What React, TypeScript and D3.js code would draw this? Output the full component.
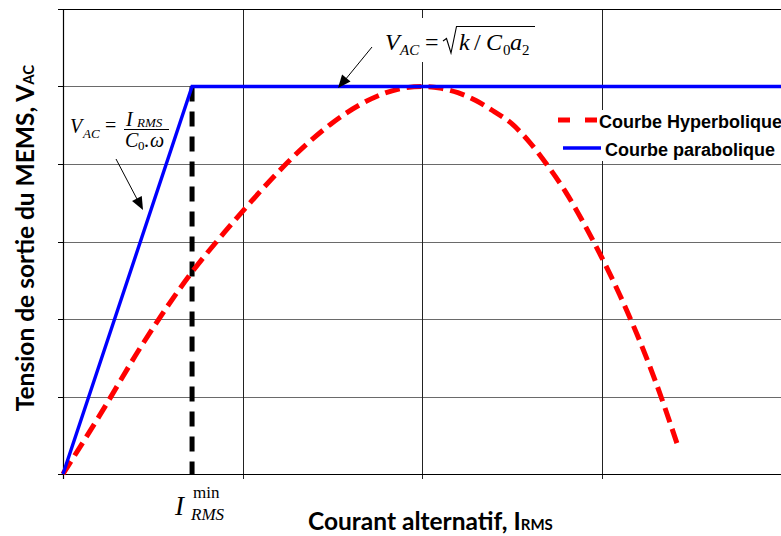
import React from "react";
import * as d3 from "d3";

const W = 781;
const H = 536;

// axis domains and grid values
const xGridValues = [0, 1, 2, 3, 4];
const yGridValues = [0, 1, 2, 3, 4, 5, 6];

// key values
const iRmsMin = 0.719;
const vMax = 5;

// parabolic curve (blue)
const blueX = [0, iRmsMin, 4];
const blueY = [0, vMax, vMax];

// hyperbolic curve (red dashed)
const redX = [0, 0.2, 0.45, 0.72, 0.9, 1.05, 1.2, 1.35, 1.5, 1.65, 1.8, 1.9, 2.0, 2.1, 2.2, 2.3, 2.4, 2.5, 2.6, 2.7, 2.8, 2.9, 3.0, 3.1, 3.2, 3.3, 3.43];
const redY = [0, 0.74, 1.7, 2.61, 3.12, 3.52, 3.9, 4.24, 4.53, 4.76, 4.92, 4.98, 5.0, 4.98, 4.92, 4.82, 4.68, 4.52, 4.28, 3.98, 3.64, 3.24, 2.8, 2.32, 1.79, 1.2, 0.33];

const legendLabels = ["Courbe Hyperbolique", "Courbe parabolique"];

function arrowHead(x1: number, y1: number, x2: number, y2: number, len = 13, half = 5.5) {
  const a = Math.atan2(y2 - y1, x2 - x1);
  const bx = x2 - len * Math.cos(a);
  const by = y2 - len * Math.sin(a);
  const px = -Math.sin(a) * half;
  const py = Math.cos(a) * half;
  return `M${x2},${y2} L${bx + px},${by + py} L${bx - px},${by - py} Z`;
}

export default function App() {
  const x = d3.scaleLinear().domain([0, 4]).range([63, 781]);
  const y = d3.scaleLinear().domain([0, 6]).range([474, 9]);

  const line = d3
    .line<[number, number]>()
    .x((d) => x(d[0]))
    .y((d) => y(d[1]));

  const smooth = d3
    .line<[number, number]>()
    .x((d) => x(d[0]))
    .y((d) => y(d[1]))
    .curve(d3.curveMonotoneX);

  const bluePts: [number, number][] = blueX.map((v, i) => [v, blueY[i]]);
  const redPts: [number, number][] = redX.map((v, i) => [v, redY[i]]);

  const serif = "'Liberation Serif', 'Times New Roman', serif";
  const sans = "'Liberation Sans', Arial, sans-serif";
  const calib = "Lato, 'Open Sans', sans-serif";

  return (
    <svg
      width={W}
      height={H}
      style={{ position: "absolute", left: 0, top: 0, background: "#fff" }}
    >
      <rect x={0} y={0} width={W} height={H} fill="#fff" />
      {/* horizontal gridlines */}
      {yGridValues.slice(1, 6).map((v) => (
        <line key={"h" + v} x1={58} x2={W} y1={Math.round(y(v)) + 0.5} y2={Math.round(y(v)) + 0.5} stroke="#6a6a6a" strokeWidth={1} />
      ))}
      {/* vertical gridlines */}
      {xGridValues.slice(1, 4).map((v) => (
        <line key={"v" + v} x1={Math.round(x(v)) + 0.5} x2={Math.round(x(v)) + 0.5} y1={y(6)} y2={479} stroke="#222" strokeWidth={1} />
      ))}
      {/* top border */}
      <line x1={58} x2={W} y1={y(6) + 0.5} y2={y(6) + 0.5} stroke="#000" strokeWidth={1.2} />
      {/* left axis */}
      <line x1={x(0) + 0.5} x2={x(0) + 0.5} y1={y(6)} y2={479} stroke="#000" strokeWidth={1.2} />
      {/* bottom axis */}
      <line x1={58} x2={W} y1={y(0) + 0.5} y2={y(0) + 0.5} stroke="#000" strokeWidth={1.2} />
      {/* left ticks */}
      {yGridValues.map((v) => (
        <line key={"ty" + v} x1={58} x2={63} y1={Math.round(y(v)) + 0.5} y2={Math.round(y(v)) + 0.5} stroke="#000" strokeWidth={1} />
      ))}

      {/* white boxes behind formulas and legend */}
      <rect x={380} y={18} width={160} height={44} fill="#fff" />
      <rect x={66} y={108} width={105} height={48} fill="#fff" />
      <rect x={553} y={110} width={228} height={51} fill="#fff" />

      {/* black dashed vertical at I_RMS min */}
      <line
        x1={x(iRmsMin)}
        x2={x(iRmsMin)}
        y1={y(vMax)}
        y2={y(0)}
        stroke="#000"
        strokeWidth={5}
        strokeDasharray="15,10"
      />

      {/* red hyperbolic curve */}
      <path d={smooth(redPts) || ""} fill="none" stroke="#ff0000" strokeWidth={5} strokeDasharray="15,7" />

      {/* blue parabolic curve */}
      <path d={line(bluePts) || ""} fill="none" stroke="#0000ff" strokeWidth={3.4} />

      {/* top formula */}
      <text fontFamily={serif} fontSize={24} fill="#000">
        <tspan x={385} y={50} fontStyle="italic">V</tspan>
        <tspan x={400} y={55} fontStyle="italic" fontSize={15}>AC</tspan>
        <tspan x={425} y={50}>=</tspan>
        <tspan x={459} y={50} fontStyle="italic">k</tspan>
        <tspan x={474} y={50}>/</tspan>
        <tspan x={486} y={50} fontStyle="italic">C</tspan>
        <tspan x={503} y={55} fontSize={15}>0</tspan>
        <tspan x={510} y={50} fontStyle="italic">a</tspan>
        <tspan x={522} y={55} fontSize={15}>2</tspan>
      </text>
      <path d="M443,41 L446.5,38.5 L451,53 L456.5,26.5 L535,26.5" fill="none" stroke="#000" strokeWidth={1.1} />
      <line x1={372} y1={47} x2={345} y2={80} stroke="#000" strokeWidth={1} />
      <path d={arrowHead(372, 47, 338, 88)} fill="#000" />

      {/* left formula */}
      <text fontFamily={serif} fontSize={20} fill="#000">
        <tspan x={70} y={133} fontStyle="italic">V</tspan>
        <tspan x={83} y={138} fontStyle="italic" fontSize={13}>AC</tspan>
        <tspan x={105} y={132}>=</tspan>
        <tspan x={126} y={126} fontStyle="italic">I</tspan>
        <tspan x={137} y={127} fontStyle="italic" fontSize={13}>RMS</tspan>
        <tspan x={125} y={147} fontStyle="italic">C</tspan>
        <tspan x={138} y={150} fontSize={13}>0</tspan>
        <tspan x={144} y={147}>.</tspan>
        <tspan x={150} y={147} fontStyle="italic">ω</tspan>
      </text>
      <line x1={124} x2={169} y1={129.5} y2={129.5} stroke="#000" strokeWidth={1} />
      <line x1={116} y1={159} x2={137} y2={199} stroke="#000" strokeWidth={1} />
      <path d={arrowHead(116, 159, 143, 210)} fill="#000" />

      {/* legend */}
      <line x1={558} x2={597} y1={120} y2={120} stroke="#ff0000" strokeWidth={5} strokeDasharray="12,15" />
      <text x={599} y={128} fontFamily={sans} fontWeight="bold" fontSize={18} fill="#000">{legendLabels[0]}</text>
      <line x1={563} x2={601} y1={148} y2={148} stroke="#0000ff" strokeWidth={3.4} />
      <text x={605} y={156} fontFamily={sans} fontWeight="bold" fontSize={18} fill="#000">{legendLabels[1]}</text>

      {/* I_RMS min label */}
      <text fontFamily={serif} fill="#000">
        <tspan x={175} y={515} fontStyle="italic" fontSize={27}>I</tspan>
        <tspan x={193} y={498} fontSize={17}>min</tspan>
        <tspan x={191} y={520} fontStyle="italic" fontSize={17}>RMS</tspan>
      </text>

      {/* x axis title */}
      <text x={308} y={530} fontFamily={calib} fontWeight="bold" fontSize={24.5} fill="#000">
        Courant alternatif, I<tspan fontSize={15}>RMS</tspan>
      </text>

      {/* y axis title */}
      <text
        transform="translate(34,238) rotate(-90)"
        textAnchor="middle"
        fontFamily={calib}
        fontWeight="bold"
        fontSize={24.5}
        fill="#000"
      >
        Tension de sortie du MEMS, V<tspan fontSize={15}>AC</tspan>
      </text>
    </svg>
  );
}
